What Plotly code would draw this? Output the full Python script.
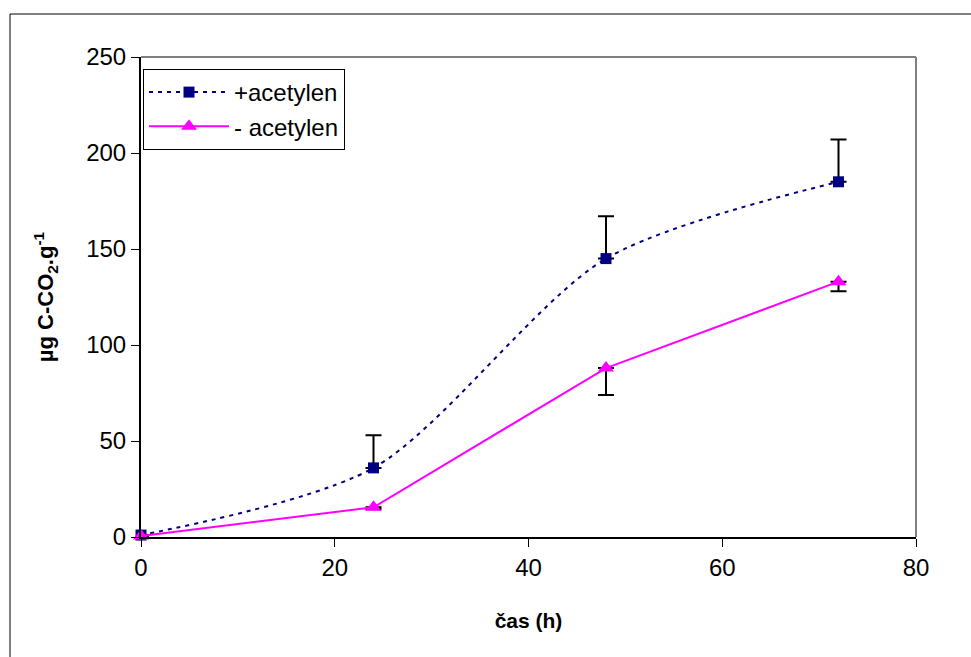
import plotly.graph_objects as go

time_h = [0, 24, 48, 72]
plus_acetylen = [1, 36, 145, 185]
plus_err_up = [0, 17, 22, 22]
minus_acetylen = [0.5, 15.5, 88, 133]
minus_err_down = [0, 1, 14, 5]

x_ticks = [0, 20, 40, 60, 80]
y_ticks = [0, 50, 100, 150, 200, 250]

FONT = "Liberation Sans, Arial, sans-serif"

fig = go.Figure()
fig.add_trace(go.Scatter(
    x=time_h, y=plus_acetylen, name="+acetylen", mode="lines+markers",
    line=dict(color="#000080", width=2, dash="4px,5px", shape="spline", smoothing=0.8),
    marker=dict(symbol="square", size=11, color="#000080"),
    error_y=dict(type="data", symmetric=False, array=plus_err_up,
                 arrayminus=[0]*len(time_h), color="black", thickness=2, width=8),
    cliponaxis=False,
))
fig.add_trace(go.Scatter(
    x=time_h, y=minus_acetylen, name="- acetylen", mode="lines+markers",
    line=dict(color="#FF00FF", width=2),
    marker=dict(symbol="triangle-up", size=14, color="#FF00FF"),
    error_y=dict(type="data", symmetric=False, array=[0]*len(time_h),
                 arrayminus=minus_err_down, color="black", thickness=2, width=8),
    cliponaxis=False,
))

L, R, T, B = 141, 55, 57, 120
W, H = 971, 657
pw, ph = W - L - R, H - T - B

def px_x(p):
    return (p - L) / pw

def px_y(p):
    return (H - B - p) / ph

fig.update_layout(
    width=W, height=H,
    margin=dict(l=L, r=R, t=T, b=B),
    paper_bgcolor="white", plot_bgcolor="white",
    font=dict(family=FONT, size=24, color="black"),
    showlegend=True,
    legend=dict(x=px_x(143), y=px_y(69), xanchor="left", yanchor="top",
                bordercolor="black", borderwidth=1, bgcolor="white",
                font=dict(size=24), itemwidth=80, tracegroupgap=0),
    xaxis=dict(range=[0, 80], tickvals=x_ticks, ticks="outside", ticklen=8,
               tickcolor="black", showline=True, linecolor="black", linewidth=2,
               showgrid=False, zeroline=False,
               title=dict(text="<b>čas (h)</b>", font=dict(size=21), standoff=34)),
    yaxis=dict(range=[0, 250], tickvals=y_ticks, ticks="outside", ticklen=8,
               tickcolor="black", showline=True, linecolor="black", linewidth=2,
               showgrid=False, zeroline=False,
               title=dict(text="<b>µg C-CO<sub>2</sub>.g<sup>-1</sup></b>",
                          font=dict(size=22), standoff=26)),
    shapes=[
        dict(type="line", xref="paper", yref="paper", x0=0, x1=1, y0=1, y1=1,
             line=dict(color="#808080", width=2), layer="below"),
        dict(type="line", xref="paper", yref="paper", x0=1, x1=1, y0=0, y1=1,
             line=dict(color="#808080", width=2), layer="below"),
        dict(type="line", xref="paper", yref="paper", x0=px_x(10), x1=px_x(975),
             y0=px_y(14), y1=px_y(14), line=dict(color="black", width=1)),
        dict(type="line", xref="paper", yref="paper", x0=px_x(10), x1=px_x(10),
             y0=px_y(14), y1=px_y(660), line=dict(color="black", width=1)),
    ],
)

fig.write_html("out.html")
